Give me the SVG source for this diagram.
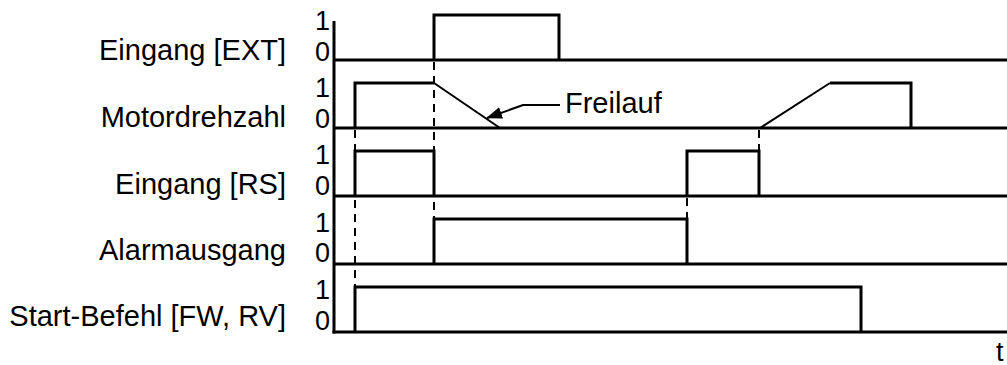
<svg xmlns="http://www.w3.org/2000/svg" width="1007" height="365" viewBox="0 0 1007 365">
<style>
text{font-family:"Liberation Sans",Arial,sans-serif;font-size:29px;fill:#000}
.lbl{text-anchor:end}
.dig{text-anchor:end;font-size:27px}
.axis{stroke:#000;stroke-width:3;fill:none}
.wave{stroke:#000;stroke-width:3;fill:none;stroke-linejoin:miter}
.slope{stroke:#000;stroke-width:2;fill:none}
.dash{stroke:#000;stroke-width:2;stroke-dasharray:8 6;fill:none}
</style>
<defs>
<marker id="ah" markerWidth="16" markerHeight="12" refX="15" refY="6" orient="auto" markerUnits="userSpaceOnUse">
<polygon points="0,0 16,6 0,12" fill="#000"/>
</marker>
</defs>
<rect width="1007" height="365" fill="#fff"/>
<g id="axes">
<line class="axis" x1="334" y1="21" x2="334" y2="333.5"/>
<line class="axis" x1="334" y1="60" x2="1007" y2="60"/>
<line class="axis" x1="334" y1="128" x2="1007" y2="128"/>
<line class="axis" x1="334" y1="196" x2="1007" y2="196"/>
<line class="axis" x1="334" y1="264" x2="1007" y2="264"/>
<line class="axis" x1="332.5" y1="332" x2="1007" y2="332"/>
<text x="996" y="361" style="font-size:27px">t</text>
</g>
<g id="row-ext">
<text class="lbl" x="286" y="60">Eingang [EXT]</text>
<text class="dig" x="330" y="30">1</text>
<text class="dig" x="330" y="61">0</text>
<path class="wave" d="M434,60 V15 H559 V60"/>
</g>
<g id="row-motor">
<text class="lbl" x="286" y="127">Motordrehzahl</text>
<text class="dig" x="330" y="97">1</text>
<text class="dig" x="330" y="128">0</text>
<path class="wave" d="M355,128 V83 H434"/>
<path class="slope" d="M434,83 L500,128"/>
<path class="slope" d="M760,128 L830,83"/>
<path class="wave" d="M830,83 H911 V128"/>
</g>
<g id="row-rs">
<text class="lbl" x="286" y="194">Eingang [RS]</text>
<text class="dig" x="330" y="164">1</text>
<text class="dig" x="330" y="195">0</text>
<path class="wave" d="M355,196 V151 H434 V196"/>
<path class="wave" d="M687,196 V151 H759 V196"/>
</g>
<g id="row-alarm">
<text class="lbl" x="286" y="260">Alarmausgang</text>
<text class="dig" x="330" y="232">1</text>
<text class="dig" x="330" y="262">0</text>
<path class="wave" d="M434,264 V219 H687 V264"/>
</g>
<g id="row-start">
<text class="lbl" x="286" y="326">Start-Befehl [FW, RV]</text>
<text class="dig" x="330" y="299">1</text>
<text class="dig" x="330" y="330">0</text>
<path class="wave" d="M355,332 V287 H861 V332"/>
</g>
<g id="connectors">
<line class="dash" x1="355" y1="130" x2="355" y2="287"/>
<line class="dash" x1="434" y1="62" x2="434" y2="219"/>
<line class="dash" x1="687" y1="198" x2="687" y2="219"/>
<line class="dash" x1="759" y1="130" x2="759" y2="151"/>
<path class="slope" d="M560,105 H523 L487,118" marker-end="url(#ah)"/>
</g>
<g id="label-freilauf">
<text x="565" y="113">Freilauf</text>
</g>
</svg>
